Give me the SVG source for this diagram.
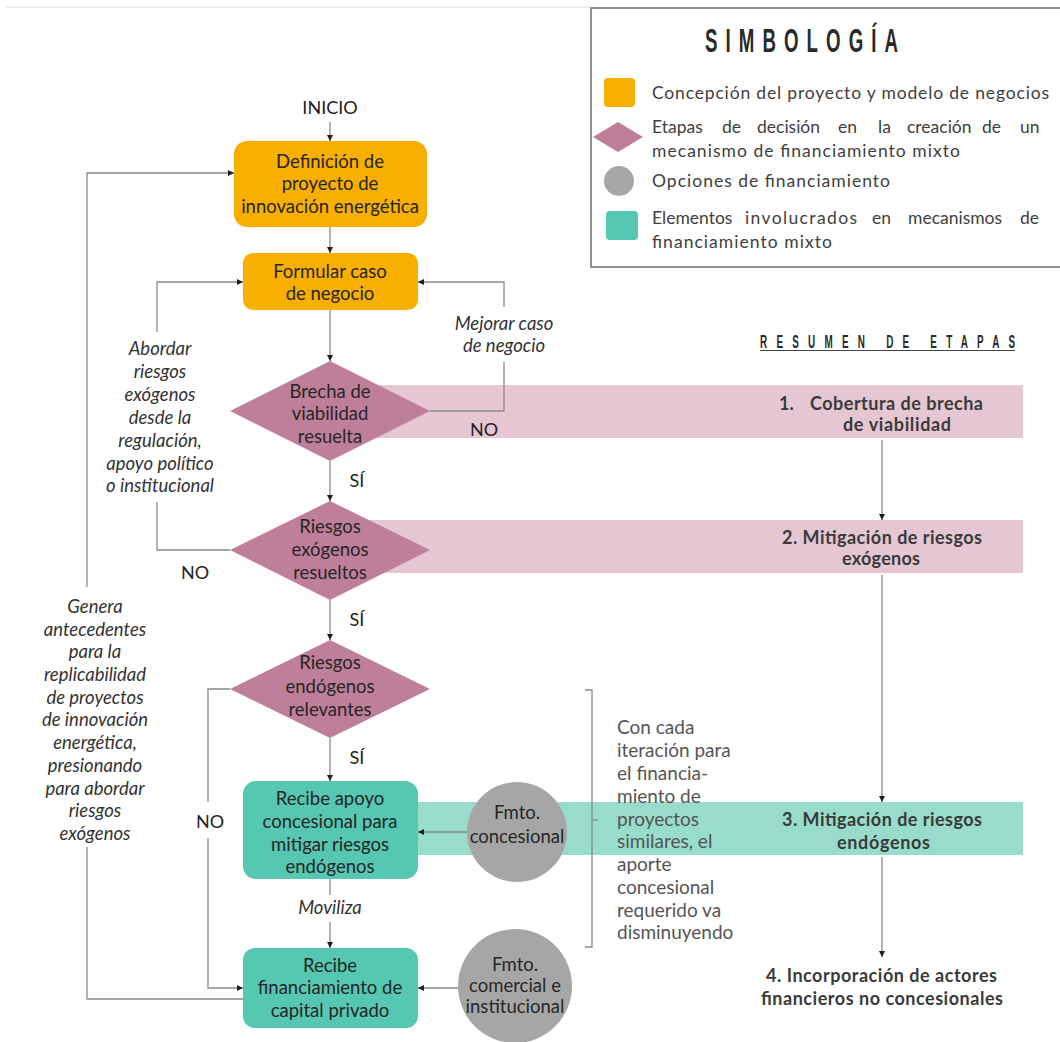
<svg xmlns="http://www.w3.org/2000/svg" width="1060" height="1042" viewBox="0 0 1060 1042">
<defs>
<marker id="ah" markerUnits="userSpaceOnUse" markerWidth="7" markerHeight="7" refX="6" refY="3" orient="auto">
<path d="M0,0 L6,3 L0,6 z" fill="#1e1e1e"/>
</marker>
<style>
.ln{fill:none;stroke:#8a8a8a;stroke-width:1.3}
.arr{marker-end:url(#ah)}
.org{fill:#F9AF00}
.dia{fill:#BF7F9A}
.tea{fill:#56C7B0}
.gry{fill:#A6A6A6}
.nt{font-family:Lato,"Liberation Sans",sans-serif;font-size:18.5px;fill:#262626;text-anchor:middle}
.it{font-family:Lato,"Liberation Sans",sans-serif;font-size:18.5px;font-style:italic;fill:#333;text-anchor:middle}
.lb{font-family:Lato,"Liberation Sans",sans-serif;font-size:18px;fill:#222;text-anchor:middle}
.lg{font-family:Lato,"Liberation Sans",sans-serif;font-size:17.5px;fill:#404040}
.bt{font-family:Lato,"Liberation Sans",sans-serif;font-size:18px;font-weight:bold;fill:#3a3a3a}
.br{font-family:Lato,"Liberation Sans",sans-serif;font-size:19px;fill:#555}
.hd{font-family:"Liberation Sans",Arial,sans-serif;font-weight:bold;fill:#2a2a2a}
</style>
</defs>
<rect width="1060" height="1042" fill="#fff"/>
<line x1="6" y1="7" x2="590" y2="7" stroke="#ececec" stroke-width="2"/>

<!-- Legend -->
<g id="legend">
<rect x="591" y="8" width="480" height="259" fill="#fff" stroke="#8f8f8f" stroke-width="2"/>
<text class="hd" transform="translate(705,52) scale(0.55,1)" font-size="34" textLength="351" lengthAdjust="spacing">SIMBOLOGÍA</text>
<rect x="604" y="78" width="31" height="29" rx="4" class="org"/>
<text class="lg" x="652" y="99" textLength="397" lengthAdjust="spacing">Concepción del proyecto y modelo de negocios</text>
<polygon points="593,137 618,122 643,137 618,152" class="dia"/>
<text class="lg" y="133"><tspan x="652">Etapas</tspan><tspan x="722">de</tspan><tspan x="757">decisión</tspan><tspan x="838">en</tspan><tspan x="878">la</tspan><tspan x="907">creación</tspan><tspan x="982">de</tspan><tspan x="1020">un</tspan></text>
<text class="lg" x="652" y="157" textLength="308" lengthAdjust="spacing">mecanismo de financiamiento mixto</text>
<circle cx="619" cy="181" r="15" class="gry"/>
<text class="lg" x="652" y="187" textLength="238" lengthAdjust="spacing">Opciones de financiamiento</text>
<rect x="606" y="211" width="32" height="29" rx="4" class="tea"/>
<text class="lg" y="224"><tspan x="652">Elementos</tspan><tspan x="745" textLength="112" lengthAdjust="spacing">involucrados</tspan><tspan x="872">en</tspan><tspan x="908">mecanismos</tspan><tspan x="1020">de</tspan></text>
<text class="lg" x="652" y="248" textLength="180" lengthAdjust="spacing">financiamiento mixto</text>
</g>

<!-- Stage bands -->
<g id="band1">
<rect x="330" y="385" width="693" height="53" fill="#E5C6D3"/>
<text class="bt" x="779" y="410">1.</text>
<text class="bt" x="810" y="410" textLength="173" lengthAdjust="spacing">Cobertura de brecha</text>
<text class="bt" x="843" y="431" textLength="108" lengthAdjust="spacing">de viabilidad</text>
</g>
<g id="band2">
<rect x="330" y="520" width="693" height="53" fill="#E5C6D3"/>
<text class="bt" x="782" y="544" textLength="200" lengthAdjust="spacing">2. Mitigación de riesgos</text>
<text class="bt" x="842" y="565" textLength="78" lengthAdjust="spacing">exógenos</text>
</g>
<g id="band3">
<rect x="400" y="802" width="623" height="53" fill="#98DCCB"/>
<text class="bt" x="782" y="826" textLength="200" lengthAdjust="spacing">3. Mitigación de riesgos</text>
<text class="bt" x="837" y="849" textLength="93" lengthAdjust="spacing">endógenos</text>
</g>
<g id="stage4">
<text class="bt" x="766" y="982" textLength="231" lengthAdjust="spacing">4. Incorporación de actores</text>
<text class="bt" x="761" y="1005" textLength="242" lengthAdjust="spacing">financieros no concesionales</text>
</g>
<g id="resumen">
<text class="hd" transform="translate(760,348) scale(0.55,1)" font-size="18" textLength="464" lengthAdjust="spacing">RESUMEN DE ETAPAS</text>
<line x1="760" y1="350.5" x2="1015" y2="350.5" stroke="#444" stroke-width="1"/>
</g>

<!-- Nodes -->
<g id="inicio"><text class="lb" x="330" y="114" font-size="17">INICIO</text></g>
<g id="n1">
<rect x="234" y="141" width="193" height="86" rx="13" class="org"/>
<text class="nt" x="330" y="168">Definición de</text>
<text class="nt" x="330" y="190">proyecto de</text>
<text class="nt" x="330" y="213">innovación energética</text>
</g>
<g id="n2">
<rect x="243" y="253" width="175" height="57" rx="10" class="org"/>
<text class="nt" x="330" y="278" font-size="19">Formular caso</text>
<text class="nt" x="330" y="300" font-size="19">de negocio</text>
</g>
<g id="d1">
<polygon points="230,411 330,361 430,411 330,461" class="dia"/>
<text class="nt" x="330" y="398">Brecha de</text>
<text class="nt" x="330" y="420">viabilidad</text>
<text class="nt" x="330" y="443">resuelta</text>
</g>
<g id="d2">
<polygon points="230,550 330,501 430,550 330,600" class="dia"/>
<text class="nt" x="330" y="533">Riesgos</text>
<text class="nt" x="330" y="556">exógenos</text>
<text class="nt" x="330" y="579">resueltos</text>
</g>
<g id="d3">
<polygon points="230,689 330,640 430,689 330,738" class="dia"/>
<text class="nt" x="330" y="669">Riesgos</text>
<text class="nt" x="330" y="693">endógenos</text>
<text class="nt" x="330" y="716">relevantes</text>
</g>
<g id="n3">
<rect x="243" y="781" width="175" height="98" rx="13" class="tea"/>
<text class="nt" x="330" y="805" font-size="17.5">Recibe apoyo</text>
<text class="nt" x="330" y="828" font-size="17.5">concesional para</text>
<text class="nt" x="330" y="851" font-size="17.5">mitigar riesgos</text>
<text class="nt" x="330" y="873" font-size="17.5">endógenos</text>
</g>
<g id="n4">
<rect x="243" y="948" width="175" height="80" rx="12" class="tea"/>
<text class="nt" x="330" y="972">Recibe</text>
<text class="nt" x="330" y="994">financiamiento de</text>
<text class="nt" x="330" y="1017">capital privado</text>
</g>
<g id="c1">
<circle cx="517" cy="832" r="50" class="gry"/>
<text class="nt" x="517" y="819" font-size="19">Fmto.</text>
<text class="nt" x="517" y="843" font-size="19">concesional</text>
</g>
<g id="c2">
<circle cx="515" cy="986" r="57" class="gry"/>
<text class="nt" x="515" y="971" font-size="19">Fmto.</text>
<text class="nt" x="515" y="992" font-size="19">comercial e</text>
<text class="nt" x="515" y="1013" font-size="19">institucional</text>
</g>

<!-- Connectors -->
<g id="connectors">
<line class="ln arr" x1="330" y1="122" x2="330" y2="141"/>
<line class="ln arr" x1="330" y1="227" x2="330" y2="253"/>
<line class="ln arr" x1="330" y1="310" x2="330" y2="361"/>
<line class="ln arr" x1="330" y1="461" x2="330" y2="501"/>
<line class="ln arr" x1="330" y1="600" x2="330" y2="640"/>
<line class="ln arr" x1="330" y1="738" x2="330" y2="781"/>
<line class="ln" x1="330" y1="879" x2="330" y2="895"/>
<line class="ln arr" x1="330" y1="922" x2="330" y2="948"/>
<polyline class="ln" points="430,411 504,411 504,362"/>
<polyline class="ln arr" points="504,307 504,282 418,282"/>
<polyline class="ln" points="230,550 157,550 157,502"/>
<polyline class="ln arr" points="157,332 157,282 243,282"/>
<polyline class="ln" points="230,689 208,689 208,802"/>
<polyline class="ln arr" points="208,838 208,988 243,988"/>
<polyline class="ln" points="243,999 87,999 87,847"/>
<polyline class="ln arr" points="87,587 87,173 234,173"/>
<line class="ln arr" x1="467" y1="832" x2="418" y2="832"/>
<line class="ln arr" x1="458" y1="988" x2="418" y2="988"/>
<line class="ln arr" x1="882" y1="440" x2="882" y2="520"/>
<line class="ln arr" x1="882" y1="575" x2="882" y2="802"/>
<line class="ln arr" x1="882" y1="857" x2="882" y2="957"/>
<polyline class="ln" points="585,690 592,690 592,947 585,947"/>
<line class="ln" x1="592" y1="820" x2="598" y2="820"/>
</g>

<!-- Labels -->
<g id="labels">
<text class="lb" x="357" y="487">SÍ</text>
<text class="lb" x="357" y="626">SÍ</text>
<text class="lb" x="357" y="764">SÍ</text>
<text class="lb" x="484" y="436">NO</text>
<text class="lb" x="195" y="579">NO</text>
<text class="lb" x="210" y="828">NO</text>
<text class="it" x="330" y="914" font-size="18">Moviliza</text>
<text class="it" x="504" y="330" font-size="19">Mejorar caso</text>
<text class="it" x="504" y="352" font-size="19">de negocio</text>
<text class="it" x="160" y="355">Abordar</text>
<text class="it" x="160" y="378">riesgos</text>
<text class="it" x="160" y="401">exógenos</text>
<text class="it" x="160" y="424">desde la</text>
<text class="it" x="160" y="447">regulación,</text>
<text class="it" x="160" y="470">apoyo político</text>
<text class="it" x="160" y="492">o institucional</text>
<text class="it" x="95" y="613">Genera</text>
<text class="it" x="95" y="636">antecedentes</text>
<text class="it" x="95" y="658">para la</text>
<text class="it" x="95" y="681">replicabilidad</text>
<text class="it" x="95" y="704">de proyectos</text>
<text class="it" x="95" y="726">de innovación</text>
<text class="it" x="95" y="749">energética,</text>
<text class="it" x="95" y="772">presionando</text>
<text class="it" x="95" y="795">para abordar</text>
<text class="it" x="95" y="817">riesgos</text>
<text class="it" x="95" y="840">exógenos</text>
<text class="br" x="617" y="734">Con cada</text>
<text class="br" x="617" y="757">iteración para</text>
<text class="br" x="617" y="780">el financia-</text>
<text class="br" x="617" y="803">miento de</text>
<text class="br" x="617" y="826">proyectos</text>
<text class="br" x="617" y="848">similares, el</text>
<text class="br" x="617" y="871">aporte</text>
<text class="br" x="617" y="894">concesional</text>
<text class="br" x="617" y="917">requerido va</text>
<text class="br" x="617" y="939">disminuyendo</text>
</g>
</svg>
